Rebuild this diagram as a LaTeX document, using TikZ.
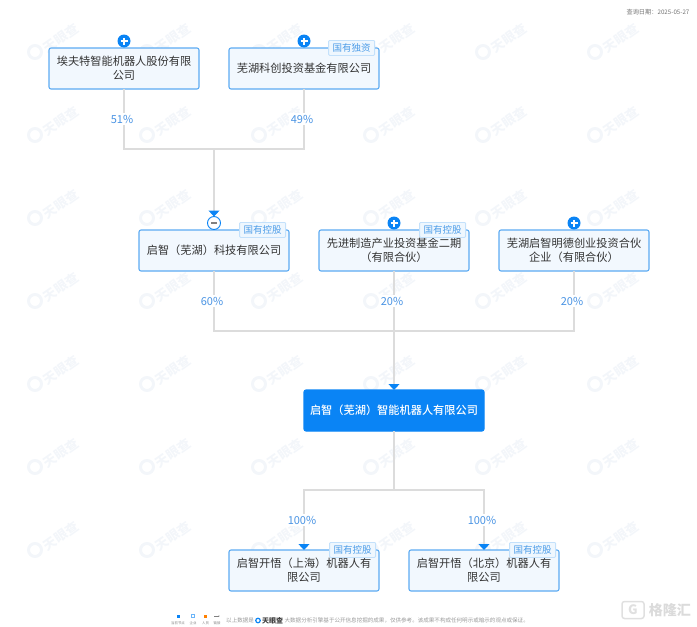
\documentclass[tikz,border=0pt]{standalone}
\usepackage{fontspec}
\setmainfont{Noto Sans CJK SC}
\newfontfamily\mediumfont{Noto Sans CJK SC Medium}
\usepackage{tikz}
\usetikzlibrary{positioning}
\usetikzlibrary{arrows.meta}
\definecolor{tyblue}{HTML}{0A84F5}
\definecolor{tyborder}{HTML}{5CABF2}
\definecolor{tyfill}{HTML}{F2F8FE}
\definecolor{tytext}{HTML}{333333}
\definecolor{typct}{HTML}{4A94E4}
\definecolor{tagborder}{HTML}{C4E1FB}
\definecolor{tagfill}{HTML}{EFF7FE}
\definecolor{tagtext}{HTML}{4E9DE8}
\definecolor{tyline}{HTML}{DCDCDC}
\definecolor{wmark}{HTML}{F3F6FA}
\tikzstyle{company} = [rectangle, draw=tyborder, fill=tyfill, line width=1.1pt, rounded corners=2pt, minimum width=150pt, minimum height=41pt, outer sep=0pt, inner xsep=0pt, text width=148pt, align=center, text=tytext, font=\fontsize{11.2}{14}\selectfont]
\tikzstyle{target} = [company, draw=tyblue, fill=tyblue, minimum width=180pt, text width=178pt, text=white, font=\fontsize{11.2}{14}\mediumfont]
\tikzstyle{tag} = [rectangle, draw=tagborder, fill=tagfill, line width=0.8pt, rounded corners=1pt, minimum width=46pt, minimum height=15pt, inner sep=0pt, anchor=north east, text=tagtext, font=\fontsize{9.5}{11}\selectfont]
\tikzstyle{pct} = [fill=white, inner sep=1.5pt, text=typct, xshift=-2pt, font=\fontsize{11}{13}\selectfont]
\tikzstyle{line} = [draw=tyline, line width=1.1pt]
\tikzstyle{arrowline} = [line, -{Triangle[length=6pt,width=11pt,color=tyblue]}]
\tikzstyle{plusnode} = [circle, fill=tyblue, minimum size=13pt, inner sep=0pt, path picture={\draw[white, line width=1.4pt] (-3.5pt,0) -- (3.5pt,0) (0,-3.5pt) -- (0,3.5pt);}]
\tikzstyle{minusnode} = [circle, draw=tyblue, fill=white, line width=0.9pt, minimum size=13pt, inner sep=0pt, outer sep=0pt, path picture={\draw[gray, line width=1.2pt] (-3pt,0) -- (3pt,0);}]
\tikzstyle{watermark} = [rotate=35, text=wmark, font=\fontsize{13}{15}\selectfont\bfseries]
\tikzstyle{legend} = [inner sep=0pt, text=gray, font=\fontsize{3.4}{4}\selectfont]
\tikzstyle{footer} = [inner sep=0pt, text=black!40, font=\fontsize{5.55}{6}\selectfont]
\begin{document}
\begin{tikzpicture}[x=1pt, y=1pt]
    \useasboundingbox (0,0) rectangle (697,-627);

    \foreach \wx in {35,147,259,371,483,595}
        \foreach \wy in {-52,-135,-218,-301,-384,-467,-550} {
            \draw [wmark, line width=3pt] (\wx,\wy) circle (6.5);
            \node [watermark] at (\wx+26,\wy+14) {天眼查};
        }

    \node [inner sep=0pt, text=black!55, font=\fontsize{6.2}{7}\selectfont] (query_date) at (658,-12) {查询日期：2025-05-27};

    \node [company] (aft) at (124,-68.5) {埃夫特智能机器人股份有限\\公司};
    \node [company, right=30pt of aft] (wuhu_fund) {芜湖科创投资基金有限公司};
    \node [company] (qz_tech) at (214,-250.5) {启智（芜湖）科技有限公司};
    \node [company, right=30pt of qz_tech] (adv_fund) {先进制造产业投资基金二期\\（有限合伙）};
    \node [company, right=30pt of adv_fund] (mingde) {芜湖启智明德创业投资合伙\\企业（有限合伙）};
    \node [target] (qz_robot) at (394,-410.5) {启智（芜湖）智能机器人有限公司};
    \node [company] (kw_sh) at (304,-570.5) {启智开悟（上海）机器人有\\限公司};
    \node [company, right=30pt of kw_sh] (kw_bj) {启智开悟（北京）机器人有\\限公司};

    \node [plusnode] (plus_aft) at ([yshift=7pt]aft.north) {};
    \node [plusnode] (plus_fund) at ([yshift=7pt]wuhu_fund.north) {};
    \node [minusnode] (minus_tech) at ([yshift=7pt]qz_tech.north) {};
    \node [plusnode] (plus_adv) at ([yshift=7pt]adv_fund.north) {};
    \node [plusnode] (plus_mingde) at ([yshift=7pt]mingde.north) {};

    \node [tag] (tag_fund) at ([xshift=-4pt,yshift=8pt]wuhu_fund.north east) {国有独资};
    \node [tag] (tag_tech) at ([xshift=-3pt,yshift=8pt]qz_tech.north east) {国有控股};
    \node [tag] (tag_adv) at ([xshift=-3pt,yshift=8pt]adv_fund.north east) {国有控股};
    \node [tag] (tag_sh) at ([xshift=-3pt,yshift=8pt]kw_sh.north east) {国有控股};
    \node [tag] (tag_bj) at ([xshift=-3pt,yshift=8pt]kw_bj.north east) {国有控股};

    \coordinate (join_top) at (214,-149);
    \coordinate (join_mid) at (394,-331);
    \coordinate (join_low) at (394,-490);

    \path [line] (aft) |- node [pct, pos=0.25] {51\%} (join_top);
    \path [line] (wuhu_fund) |- node [pct, pos=0.25] {49\%} (join_top);
    \path [arrowline] (join_top) -- (minus_tech);
    \path [line] (qz_tech) |- node [pct, pos=0.25] {60\%} (join_mid);
    \path [line] (adv_fund) -- node [pct] {20\%} (join_mid);
    \path [line] (mingde) |- node [pct, pos=0.25] {20\%} (join_mid);
    \path [arrowline] (join_mid) -- (qz_robot);
    \path [line] (qz_robot) -- (join_low);
    \path [arrowline] (join_low) -| node [pct, pos=0.75] {100\%} (kw_sh);
    \path [arrowline] (join_low) -| node [pct, pos=0.75] {100\%} (kw_bj);

    \node [fill=tyblue, minimum size=3pt, inner sep=0pt] (dot_now) at (178,-616) {};
    \node [draw=tyblue!60, minimum size=3pt, inner sep=0pt] (dot_firm) at (193,-616) {};
    \node [fill=orange, minimum size=3pt, inner sep=0pt] (dot_person) at (205.5,-616) {};
    \node [legend] (leg_now) at (178,-623) {当前节点};
    \node [legend] (leg_firm) at (193,-623) {企业};
    \node [legend] (leg_person) at (205.5,-623) {人员};
    \node [legend] (leg_link) at (217,-623) {链接};
    \coordinate (link_a) at (214,-616);
    \coordinate (link_b) at (220,-616);
    \draw [gray, line width=0.4pt, -{Latex[length=1.5pt]}] (link_a) -- (link_b);

    \node [footer, anchor=west] (foot_a) at (226,-620.5) {以上数据是};
    \node [circle, draw=tyblue, line width=1.2pt, minimum size=4.5pt, inner sep=0pt] (foot_logo) at (258,-620.5) {};
    \node [footer, anchor=west, text=black!75, font=\fontsize{7}{8}\selectfont\bfseries] (foot_name) at (262,-620.5) {天眼查};
    \node [footer, right=1pt of foot_name] (foot_b) {大数据分析引擎基于公开信息挖掘的成果，仅供参考。该成果不构成任何明示或暗示的观点或保证。};

    \node [draw=black!12, rounded corners=2.5pt, line width=1.5pt, minimum width=22pt, minimum height=17pt, inner sep=0pt, text=black!12, font=\fontsize{13}{14}\selectfont\bfseries] (glh_logo) at (633,-610) {G};
    \node [right=4pt of glh_logo, inner sep=0pt, text=black!14, font=\fontsize{14}{16}\selectfont\bfseries] (glh_name) {格隆汇};
\end{tikzpicture}
\end{document}
